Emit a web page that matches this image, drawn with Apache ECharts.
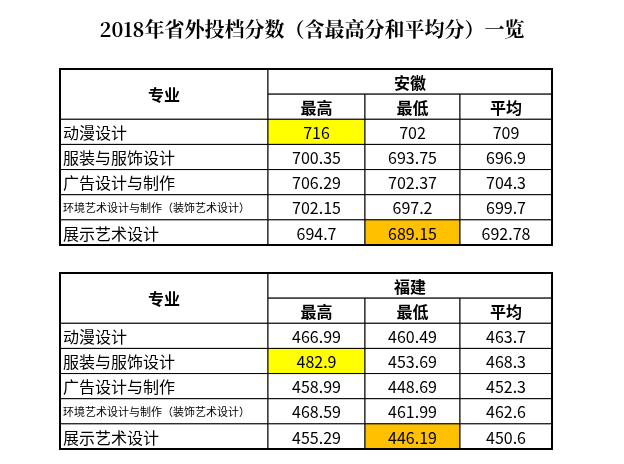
<!DOCTYPE html>
<html><head><meta charset="utf-8">
<script src="https://cdn.jsdelivr.net/npm/echarts@6/dist/echarts.min.js"></script>
<style>html,body{margin:0;background:#fff}#c{width:624px;height:464px}</style></head>
<body><div id="c"></div>
<script>
const title = '2018年省外投档分数（含最高分和平均分）一览';
const majors = ['动漫设计','服装与服饰设计','广告设计与制作','环境艺术设计与制作（装饰艺术设计）','展示艺术设计'];
const colHeaders = ['最高','最低','平均'];
const provinces = ['安徽','福建'];
const anhui = [['716','702','709'],['700.35','693.75','696.9'],['706.29','702.37','704.3'],['702.15','697.2','699.7'],['694.7','689.15','692.78']];
const fujian = [['466.99','460.49','463.7'],['482.9','453.69','468.3'],['458.99','448.69','452.3'],['468.59','461.99','462.6'],['455.29','446.19','450.6']];
// highlight marks: [row, col, kind]
const anhuiMarks = [[0,0,'max'],[4,1,'min']];
const fujianMarks = [[1,0,'max'],[4,1,'min']];
const colEdges = [0,208,305,400,492];
const hl = {max:'#FFFF00', min:'#FFC000'};

function cells(vals, marks, prov){
  const d=[];
  d.push([0,1,0,2,'专业','#fff',1,16]);
  d.push([1,4,0,1,prov,'#fff',1,16]);
  colHeaders.forEach((h,i)=>d.push([i+1,i+2,1,2,h,'#fff',1,16]));
  majors.forEach((m,r)=>{
    d.push([0,1,r+2,r+3,m,'#fff',0,m.length>10?11:16]);
    vals[r].forEach((v,c)=>{
      const mk=marks.find(k=>k[0]===r&&k[1]===c);
      d.push([c+1,c+2,r+2,r+3,v,mk?hl[mk[2]]:'#fff',0,16]);
    });
  });
  d.push([0,4,0,7,'',null,0,0]);
  return d;
}
function render(params, api){
  const c0=colEdges[api.value(0)], c1=colEdges[api.value(1)];
  const p0=api.coord([c0,api.value(2)]), p1=api.coord([c1,api.value(3)]);
  const fill=api.value(5)==null?null:params.context?null:null;
  const item=params.dataIndexInside;
  const raw=this_data[params.seriesIndex][item];
  const outer=raw[5]===null;
  return {type:'group',children:[
    {type:'rect',shape:{x:p0[0],y:p0[1],width:p1[0]-p0[0],height:p1[1]-p0[1]},
     style:{fill:outer?'none':raw[5],stroke:'#000',lineWidth:outer?2:1}},
    {type:'text',style:{text:raw[4],x:(p0[0]+p1[0])/2+(raw[7]===11?0:0),y:(p0[1]+p1[1])/2+1,
      align:'center',verticalAlign:'middle',fill:'#000',
      font:(raw[6]?'bold ':'')+raw[7]+'px "Noto Sans CJK SC"'}}
  ]};
}
const this_data=[cells(anhui,anhuiMarks,provinces[0]),cells(fujian,fujianMarks,provinces[1])];
// left-align major names
const origRender=render;
function render2(params, api){
  const g=origRender(params, api);
  const raw=this_data[params.seriesIndex][params.dataIndexInside];
  if(raw[0]===0&&raw[1]===1&&raw[2]>=2){g.children[1].style.align='left';g.children[1].style.x=g.children[0].shape.x+3;}
  return g;
}
const chart=echarts.init(document.getElementById('c'));
chart.setOption({
  animation:false,
  title:{text:title,left:'center',top:14,textStyle:{fontSize:20,fontWeight:'bold',color:'#000',fontFamily:'Noto Serif CJK SC, Noto Sans CJK SC'}},
  grid:[{left:60,width:492,top:69,height:176},{left:60,width:492,top:273,height:176}],
  xAxis:[0,1].map(i=>({type:'value',gridIndex:i,min:0,max:492,show:false})),
  yAxis:[0,1].map(i=>({type:'value',gridIndex:i,min:0,max:7,inverse:true,show:false})),
  series:[0,1].map(i=>({type:'custom',xAxisIndex:i,yAxisIndex:i,renderItem:render2,
    data:this_data[i].map(r=>[r[0],r[1],r[2],r[3]])}))
});
</script></body></html>
